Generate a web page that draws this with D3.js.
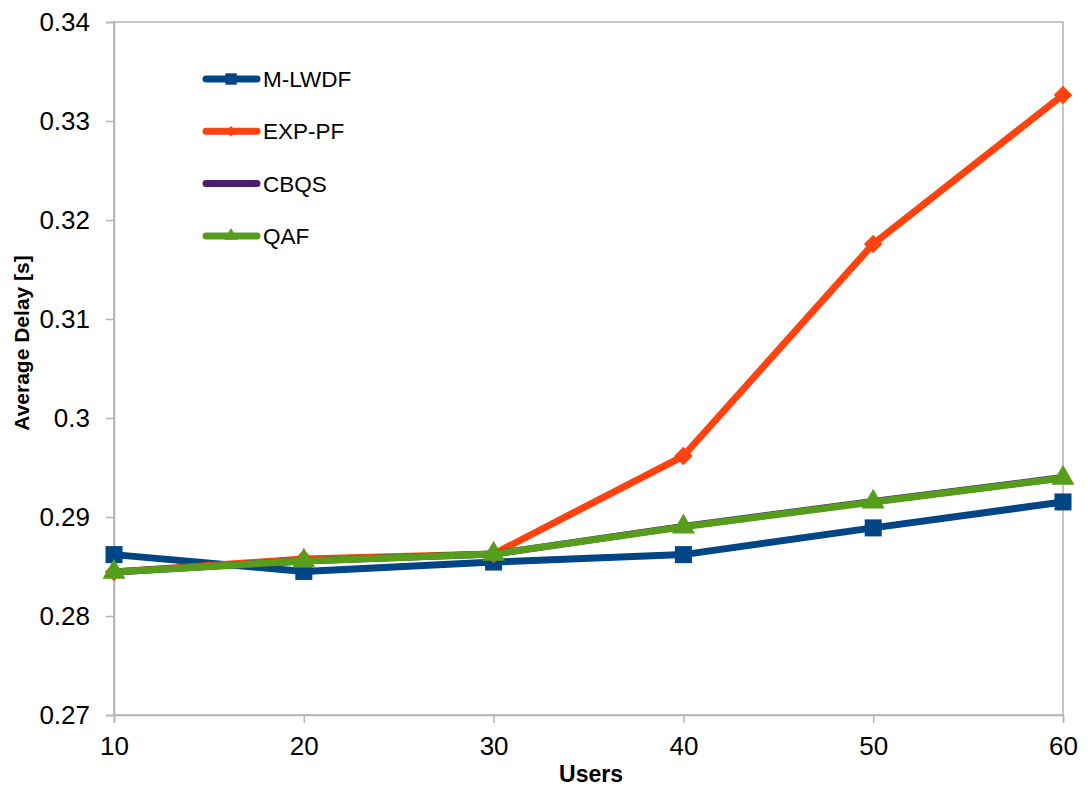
<!DOCTYPE html>
<html>
<head>
<meta charset="utf-8">
<script src="https://cdn.jsdelivr.net/npm/d3@7"></script>
<style>
  body { margin: 0; background: #fff; }
  text { font-family: "Liberation Sans", Arial, sans-serif; }
</style>
</head>
<body>
<svg width="1088" height="788"></svg>
<script>
let users = [10, 20, 30, 40, 50, 60];
let yTicks = [0.27, 0.28, 0.29, 0.3, 0.31, 0.32, 0.33, 0.34];
let mlwdf = [0.2862, 0.2845, 0.28545, 0.2862, 0.2889, 0.29152];
let exppf = [0.28444, 0.28576, 0.28626, 0.29616, 0.31758, 0.33263];
let cbqs = [0.28444, 0.28556, 0.28626, 0.28905, 0.29157, 0.29399];
let qaf = [0.28444, 0.28556, 0.28626, 0.2890, 0.29152, 0.29394];

let series = [
  { name: 'M-LWDF', values: mlwdf, color: '#004586', marker: 'square' },
  { name: 'EXP-PF', values: exppf, color: '#ff420e', marker: 'diamond' },
  { name: 'CBQS', values: cbqs, color: '#4b1f6f', marker: null },
  { name: 'QAF', values: qaf, color: '#579d1c', marker: 'triangle' }
];

let plotL = 114, plotR = 1063, plotT = 22, plotB = 715;
let svg = d3.select('svg');

let x = d3.scaleLinear().domain([10, 60]).range([plotL, plotR]);
let y = d3.scaleLinear().domain([0.27, 0.34]).range([plotB, plotT]);

// frame
svg.append('rect')
  .attr('x', plotL).attr('y', plotT)
  .attr('width', plotR - plotL).attr('height', plotB - plotT)
  .attr('fill', 'none').attr('stroke', '#b3b3b3').attr('stroke-width', 1.5);

let yAxis = svg.append('g')
  .attr('transform', 'translate(' + plotL + ',0)')
  .call(d3.axisLeft(y).tickValues(yTicks).tickSize(8).tickPadding(16)
    .tickFormat(function(d) { return d3.format('.2f')(d).replace(/0$/, ''); }));
let xAxis = svg.append('g')
  .attr('transform', 'translate(0,' + plotB + ')')
  .call(d3.axisBottom(x).tickValues(users).tickSize(8).tickPadding(14));

[xAxis, yAxis].forEach(function(a) {
  a.select('.domain').attr('stroke', '#b3b3b3').attr('stroke-width', 1.5);
  a.selectAll('.tick line').attr('stroke', '#b3b3b3').attr('stroke-width', 1.5);
  a.selectAll('.tick text').attr('fill', '#000').style('font-size', '26px')
    .style('font-family', '"Liberation Sans", Arial, sans-serif');
});

// axis titles
svg.append('text')
  .attr('x', 591).attr('y', 782)
  .attr('text-anchor', 'middle')
  .style('font-size', '23px').style('font-weight', 'bold')
  .text('Users');
svg.append('text')
  .attr('transform', 'translate(29,343) rotate(-90)')
  .attr('text-anchor', 'middle')
  .style('font-size', '21px').style('font-weight', 'bold')
  .text('Average Delay [s]');

let line = d3.line()
  .x(function(d, i) { return x(users[i]); })
  .y(function(d) { return y(d); });

function drawMarker(g, type, color, size) {
  if (!type) return;
  let sym = type === 'square' ? d3.symbolSquare : type === 'diamond' ? d3.symbolDiamond2 : d3.symbolTriangle;
  g.append('path')
    .attr('d', d3.symbol().type(sym).size(size))
    .attr('fill', color);
}

let markerSize = { square: 290, diamond: 220, triangle: 230 };
let legendMarkerSize = { square: 130, diamond: 70, triangle: 80 };

series.forEach(function(s) {
  let g = svg.append('g');
  g.append('path')
    .datum(s.values)
    .attr('d', line)
    .attr('fill', 'none')
    .attr('stroke', s.color)
    .attr('stroke-width', 7)
    .attr('stroke-linejoin', 'round');
  g.selectAll('g.pt')
    .data(s.values)
    .join('g')
    .attr('class', 'pt')
    .attr('transform', function(d, i) { return 'translate(' + x(users[i]) + ',' + y(d) + ')'; })
    .each(function() {
      drawMarker(d3.select(this), s.marker, s.color, markerSize[s.marker]);
    });
});

// legend
let legend = svg.append('g');
series.forEach(function(s, i) {
  let ly = 79 + i * 52.3;
  let g = legend.append('g').attr('transform', 'translate(0,' + ly + ')');
  g.append('line')
    .attr('x1', 206).attr('x2', 257)
    .attr('stroke', s.color).attr('stroke-width', 7)
    .attr('stroke-linecap', 'round');
  let m = g.append('g').attr('transform', 'translate(231,0)');
  drawMarker(m, s.marker, s.color, legendMarkerSize[s.marker]);
  g.append('text')
    .attr('x', 263).attr('y', 8)
    .style('font-size', '22.5px')
    .text(s.name);
});
</script>
</body>
</html>
